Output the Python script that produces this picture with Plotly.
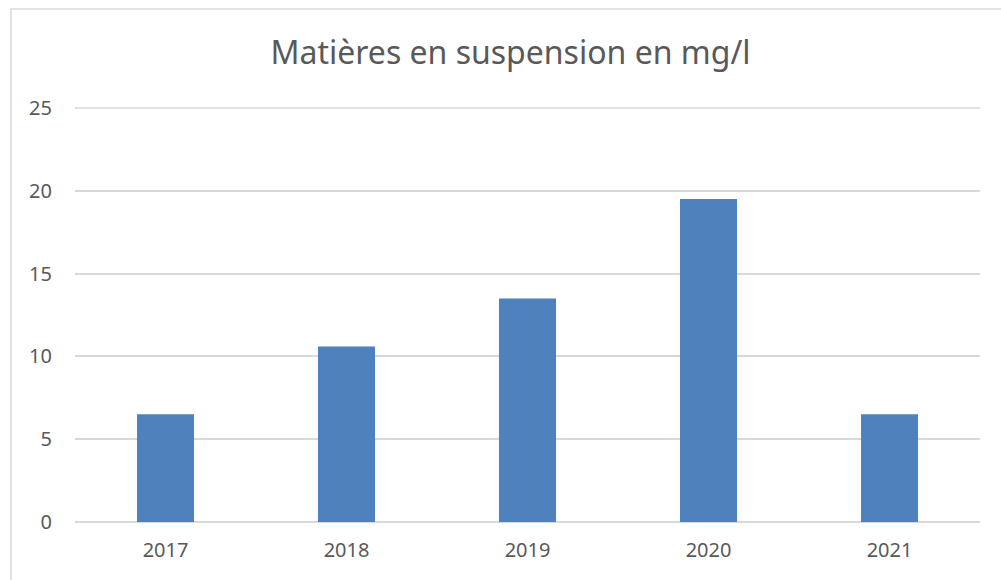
import plotly.graph_objects as go

years = ["2017", "2018", "2019", "2020", "2021"]
mes_mg_l = [6.5, 10.6, 13.5, 19.5, 6.5]
y_ticks = [0, 5, 10, 15, 20, 25]

text_color = "#595959"
grid_color = "#d9d9d9"

fig = go.Figure(
    go.Bar(
        x=years,
        y=mes_mg_l,
        marker=dict(color="#4f81bd", line=dict(width=0)),
        hoverinfo="x+y",
    )
)

fig.update_layout(
    width=1001,
    height=580,
    margin=dict(l=75, r=21, t=108, b=58),
    paper_bgcolor="white",
    plot_bgcolor="white",
    bargap=0.685,
    showlegend=False,
    font=dict(family="Noto Sans", color=text_color),
    title=dict(
        text="Matières en suspension en mg/l",
        x=0.51,
        xanchor="center",
        y=1 - 53 / 580,
        yanchor="middle",
        font=dict(size=32, color=text_color, family="Noto Sans"),
    ),
    shapes=[
        # outer chart frame
        dict(
            type="rect",
            xref="paper",
            yref="paper",
            x0=(11 - 75) / 905,
            x1=(1010 - 75) / 905,
            y0=(522 - 590) / 414,
            y1=(522 - 9) / 414,
            line=dict(color=grid_color, width=1.5),
            fillcolor="rgba(0,0,0,0)",
            layer="below",
        ),
        # gridline at the top of the value range (range top = paper 1)
        dict(
            type="line",
            xref="paper",
            yref="paper",
            x0=0,
            x1=1,
            y0=1,
            y1=1,
            line=dict(color=grid_color, width=1.5),
            layer="below",
        ),
    ],
)

fig.update_xaxes(
    type="category",
    showgrid=False,
    showline=False,
    ticks="",
    tickfont=dict(size=20, color=text_color),
    ticklabelstandoff=14,
)
fig.update_yaxes(
    range=[0, y_ticks[-1]],
    tickvals=y_ticks,
    showgrid=True,
    gridcolor=grid_color,
    gridwidth=1.5,
    zeroline=True,
    zerolinecolor=grid_color,
    zerolinewidth=1.5,
    showline=False,
    ticks="",
    tickfont=dict(size=20, color=text_color),
    ticklabelstandoff=22,
)

fig.write_html("out.html")
